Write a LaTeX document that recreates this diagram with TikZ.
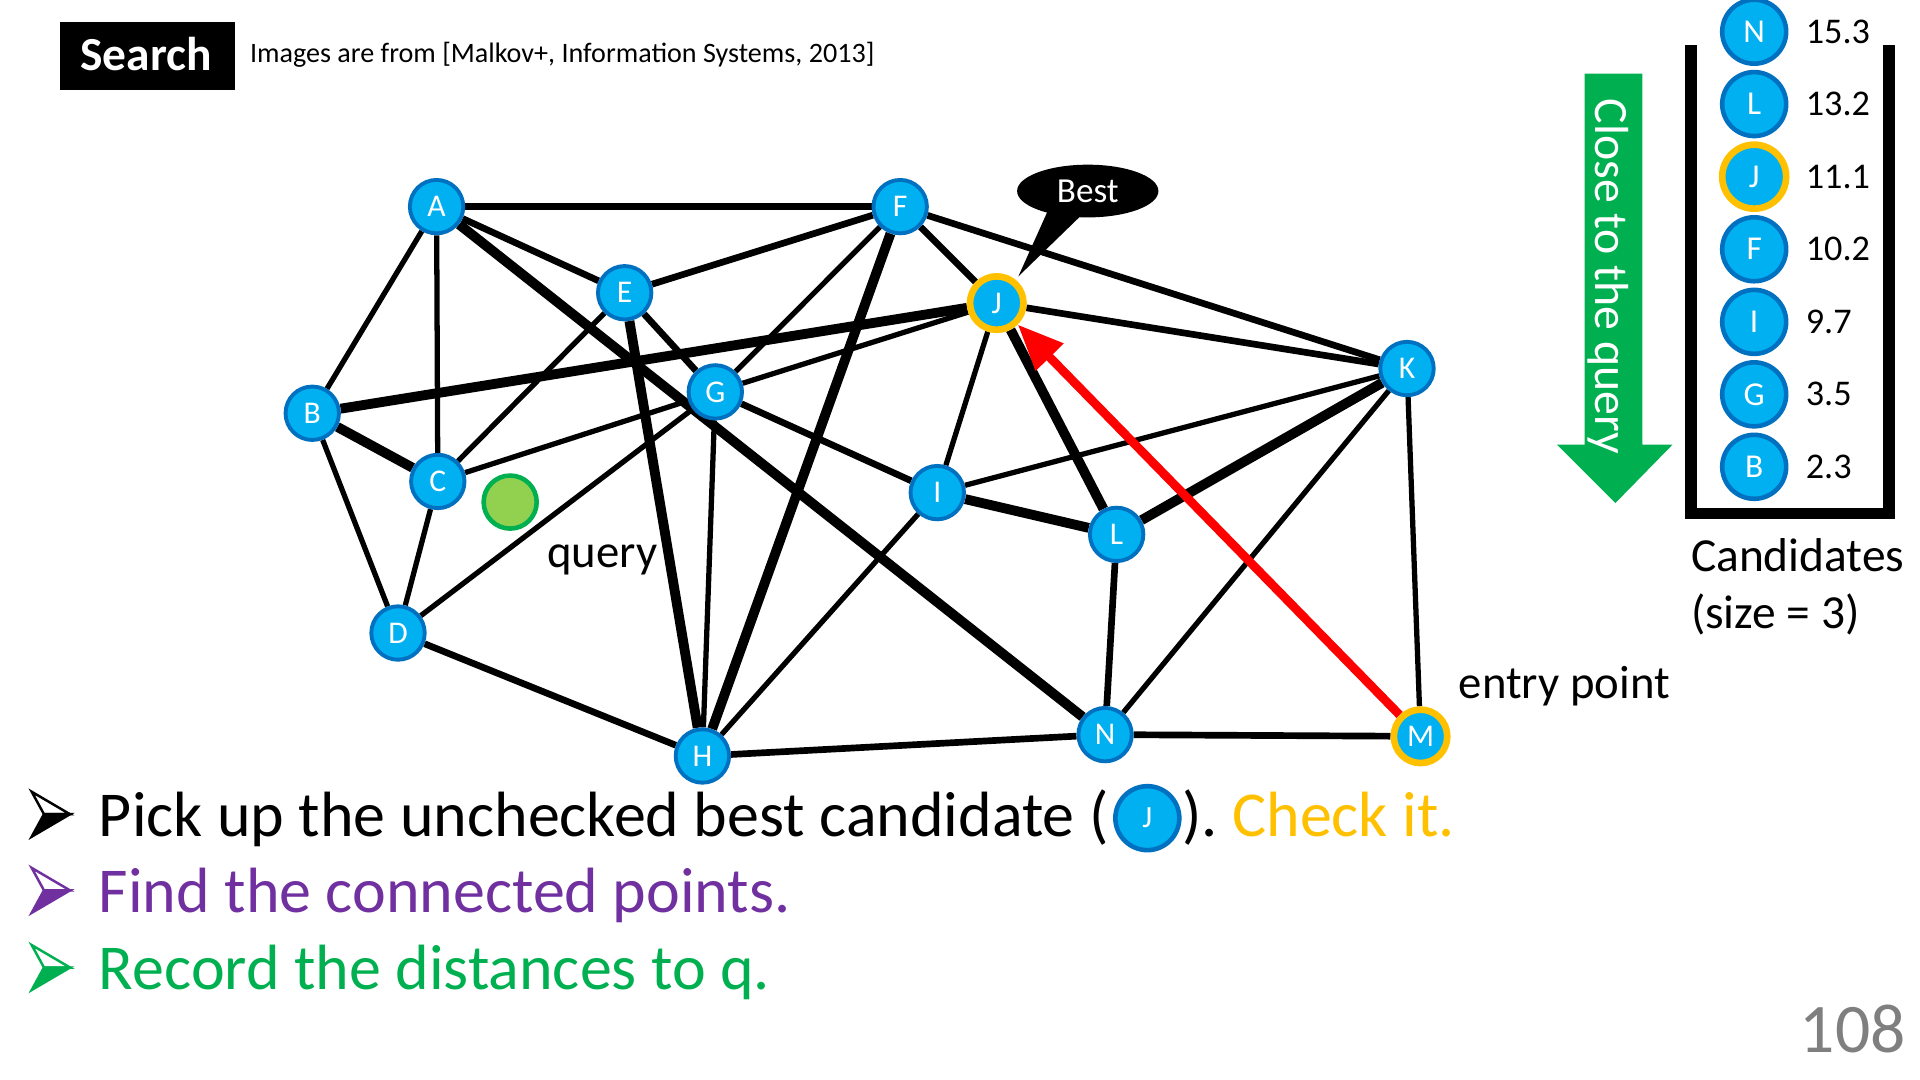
\documentclass[tikz,border=0pt]{standalone}
\usepackage{fontspec}
\setmainfont{Carlito}
\usetikzlibrary{arrows.meta}
\usetikzlibrary{calc,backgrounds}
\usetikzlibrary{shapes.geometric}
\definecolor{nodeblue}{HTML}{00B0F0}
\definecolor{ringblue}{HTML}{0070C0}
\definecolor{gold}{HTML}{FFC000}
\definecolor{ourgreen}{HTML}{00B050}
\definecolor{lightgreen}{HTML}{92D050}
\definecolor{ourpurple}{HTML}{7030A0}
\definecolor{pagegray}{HTML}{7F7F7F}

\begin{document}
\begin{tikzpicture}[x=0.3495pt,y=-0.3495pt,
  gnode/.style={circle,draw=ringblue,fill=nodeblue,line width=1.1pt,minimum size=15.2pt,inner sep=0pt,text=white,font=\fontsize{9}{9}\selectfont},
  cnode/.style={circle,draw=ringblue,fill=nodeblue,line width=1.3pt,minimum size=18.2pt,inner sep=0pt,text=white,font=\fontsize{9.5}{9.5}\selectfont},
  checked/.style={draw=gold,line width=1.9pt},
  cnodechk/.style={cnode,checked},
  lnk/.style={line width=1.5pt},
  lnkm/.style={line width=1.9pt},
  lnkb/.style={line width=2.8pt},
  lbl/.style={anchor=base west,inner sep=0pt,font=\fontsize{13.3}{13.3}\selectfont},
  item/.style={anchor=base west,inner sep=0pt,font=\fontsize{18.2}{18.2}\selectfont},
  bulletmark/.pic={
    \fill[#1] (10,18.3) -- (31.2,18.3) -- (0,36.6) -- cycle;
    \draw[#1,line width=0.7pt,line join=miter] (0,0) -- (31.2,18.3) -- (10,18.3) -- cycle;
    \draw[#1,line width=0.7pt,line join=miter] (0,36.6) -- (31.2,18.3) -- (10,18.3) -- cycle;
  }]
\useasboundingbox (0,0) rectangle (1563,879);

% title
\fill (49,18) rectangle (191,73);
\node[anchor=base,text=white,inner sep=0pt,font=\bfseries\fontsize{13.5}{13.5}\selectfont] (search) at (119,57.5) {Search};
\node[anchor=base west,inner sep=0pt,font=\fontsize{8}{8}\selectfont] (cite) at (203,50.5) {Images are from [Malkov+, Information Systems, 2013]};

% graph
\node[gnode] (A) at (355.4,168.2) {A};
\node[gnode] (F) at (732.8,168.2) {F};
\node[gnode] (E) at (508.5,238.3) {E};
\node[gnode,checked] (J) at (811.4,246.7) {J};
\node[gnode] (B) at (254.2,336.4) {B};
\node[gnode] (G) at (582.3,319) {G};
\node[gnode] (C) at (356.4,391.9) {C};
\node[gnode] (I) at (763,401) {I};
\node[gnode] (L) at (909,435) {L};
\node[gnode] (K) at (1145.4,300) {K};
\node[gnode] (D) at (324,515.3) {D};
\node[gnode] (H) at (571.8,615.4) {H};
\node[gnode] (N) at (899.6,598) {N};
\node[gnode,checked] (M) at (1156.4,599.4) {M};
\node[circle,draw=ourgreen,fill=lightgreen,line width=1.3pt,minimum size=15.1pt,inner sep=0pt] (q) at (415.3,408.7) {};

\begin{scope}[on background layer]
\draw[lnkm] (A) -- (F);
\draw[lnk] (A) -- (B);
\draw[lnk] (A) -- (C);
\draw[lnkm] (A) -- (E);
\draw[lnkb] (A) -- (N);
\draw[lnkm] (F) -- (E);
\draw[lnk] (F) -- (G);
\draw[lnkb] (F) -- (H);
\draw[lnkm] (F) -- (J);
\draw[lnkm] (F) -- (K);
\draw[lnk] (E) -- (C);
\draw[lnkm] (E) -- (G);
\draw[lnkb] (E) -- (H);
\draw[lnkb] (B) -- (J);
\draw[lnkb] (B) -- (C);
\draw[lnk] (B) -- (D);
\draw[lnk] (C) -- (D);
\draw[lnk] (C) -- (G);
\draw[lnk] (G) -- (J);
\draw[lnk] (G) -- (D);
\draw[lnk] (G) -- (H);
\draw[lnkm] (G) -- (I);
\draw[lnkm] (D) -- (H);
\draw[lnk] (H) -- (I);
\draw[lnkm] (H) -- (N);
\draw[lnk] (I) -- (J);
\draw[lnkb] (I) -- (L);
\draw[lnk] (I) -- (K);
\draw[lnkb] (J) -- (L);
\draw[lnkm] (J) -- (K);
\draw[lnkb] (L) -- (K);
\draw[lnkm] (L) -- (N);
\draw[lnk] (N) -- (K);
\draw[lnk] (K) -- (M);
\draw[lnkm] (N) -- (M);
\end{scope}

\draw[red,line width=2.5pt,-{Triangle[length=13pt,width=10.5pt]}] (M) -- (J);

% callout
\node[ellipse,fill=black,text=white,minimum width=40.2pt,minimum height=15pt,inner sep=0pt,font=\fontsize{10}{10}\selectfont] (best) at (885.5,155.5) {Best};
\coordinate (tip) at (829,225);
\fill (tip) -- ($(best.south)+(-32.5,-6)$) -- ($(best.south)+(-4.5,-3)$) -- cycle;

\node[lbl] (qlab) at (445,462) {query};
\node[lbl] (entry) at (1187,568.6) {entry point};

% close to the query
\fill[ourgreen] (1290,60) -- (1337,60) -- (1337,362) -- (1361.5,362) -- (1315,409.5) -- (1267.5,362) -- (1290,362) -- cycle;
\node[rotate=-90,anchor=base west,inner sep=0pt,text=white,font=\fontsize{13.6}{13.6}\selectfont] (close) at (1299,80) {Close to the query};

% candidates
\draw[line width=3.33pt,line join=miter] (1376.5,36.6) -- (1376.5,418) -- (1537.7,418) -- (1537.7,36.6);
\foreach \lab/\val/\yy/\sty in {N/15.3/25.8/cnode, L/13.2/84.7/cnode, J/11.1/143.8/cnodechk, F/10.2/202.9/cnode, I/9.7/262/cnode, G/3.5/321/cnode, B/2.3/380/cnode}
{
\node[\sty] (c\lab) at (1428,\yy) {\lab};
\node[anchor=west,inner sep=0pt,font=\fontsize{10.3}{10.3}\selectfont] (v\lab) at (1469.5,\yy) {\val};
}
\node[lbl,font=\fontsize{13.5}{13.5}\selectfont] (cands) at (1376,465) {Candidates};
\node[lbl,font=\fontsize{13.5}{13.5}\selectfont] (csize) at (1376,512) {(size = 3)};

% steps
\pic at (25.8,644.5) {bulletmark=black};
\node[item] (t1) at (80,681) {Pick up the unchecked best candidate (};
\node[cnode,font=\fontsize{8.8}{8.8}\selectfont] (jj) at (934,666) {J};
\node[item] (t1b) at (jj.east |- t1.base) {).~\textcolor{gold}{Check it.}};
\pic at (25.8,706.5) {bulletmark=ourpurple};
\node[item,text=ourpurple] (t2) at (80,742.4) {Find the connected points.};
\pic at (25.8,769.3) {bulletmark=ourgreen};
\node[item,text=ourgreen] (t3) at (80,805.5) {Record the distances to q.};

\node[anchor=base east,inner sep=0pt,text=pagegray,font=\fontsize{19.8}{19.8}\selectfont] (pnum) at (1552,857) {108};
\end{tikzpicture}
\end{document}
